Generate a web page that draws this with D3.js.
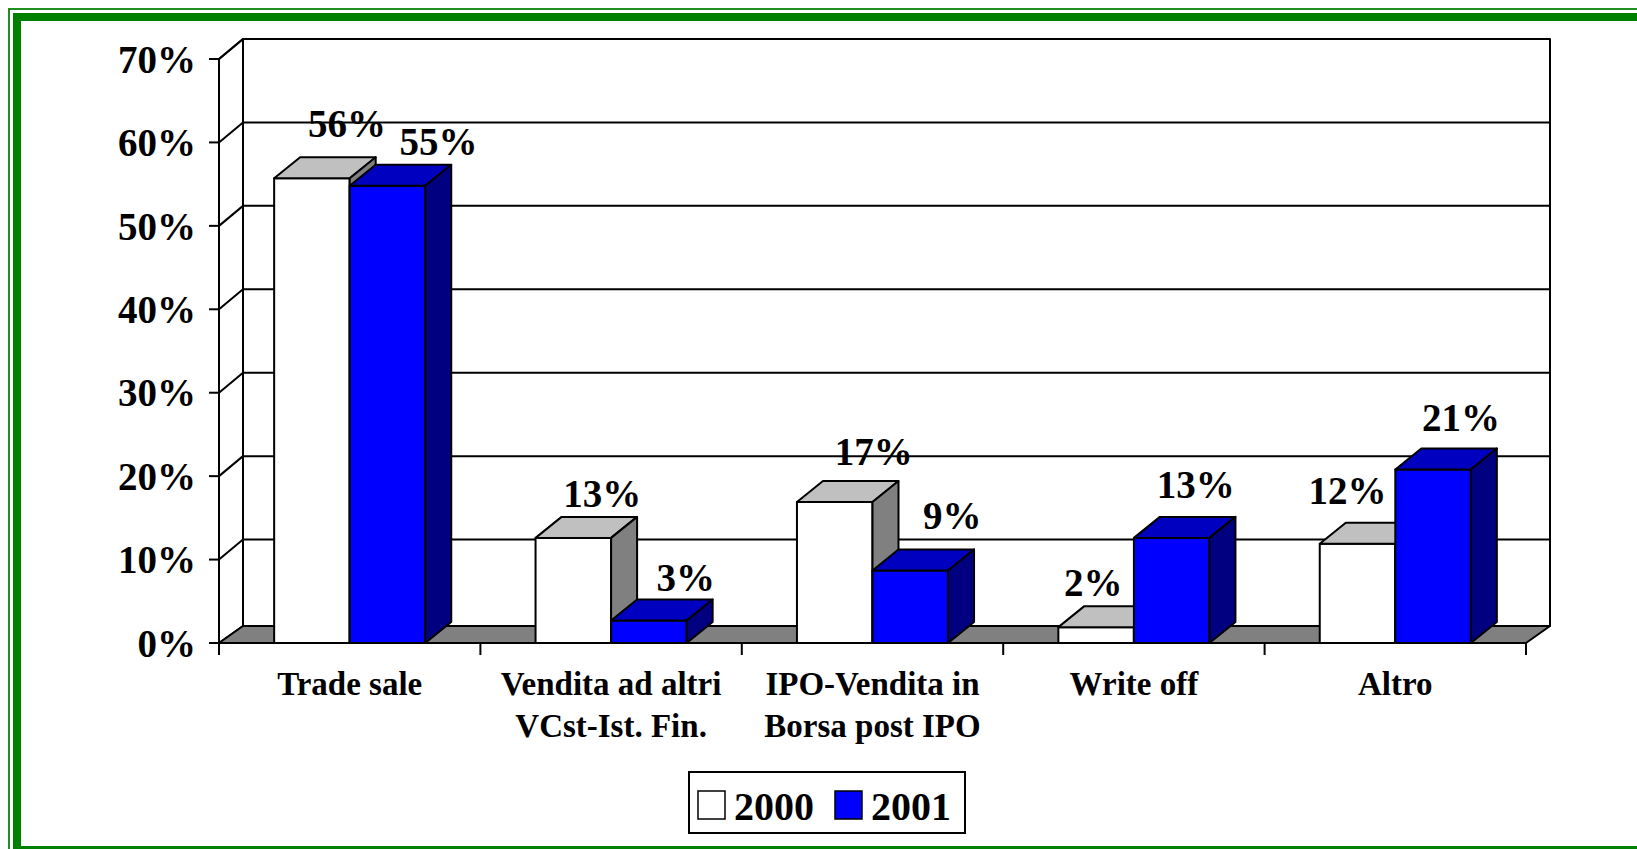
<!DOCTYPE html>
<html>
<head>
<meta charset="utf-8">
<script src="https://cdn.jsdelivr.net/npm/d3@7"></script>
<style>
body { margin: 0; background: #fff; }
text { font-family: "Liberation Serif", "Times New Roman", serif; font-weight: bold; fill: #000; }
</style>
</head>
<body>
<script>
let categories = ["Trade sale", "Vendita ad altri\nVCst-Ist. Fin.", "IPO-Vendita in\nBorsa post IPO", "Write off", "Altro"]
let series = ["2000", "2001"]
let values2000 = [55.7, 12.6, 16.9, 1.9, 11.9]
let values2001 = [54.8, 2.7, 8.7, 12.6, 20.8]
let yTicks = [0, 10, 20, 30, 40, 50, 60, 70]

// hand nudges for the value labels (excel moved them around)
let labelDx = [[22, 16, 26, -16, -23], [38, 24, 29, 11, 15]]
let labelDy = [[-20, -10, -16, -10, -19], [-10, -8, -20, -19, -17]]

let chartWidth = 1637
let chartHeight = 849
let plotLeft = 219, plotRight = 1526, plotBottom = 643, plotTop = 59
let wallDx = 24, wallDy = 20, floorDy = 17
let barDx = 26, barDy = 21

let colors = [
	{front: "#ffffff", top: "#c0c0c0", side: "#808080"},
	{front: "#0000ff", top: "#0000c0", side: "#000080"}
]

let svg = d3.select("body")
	.append("svg")
	.attr("width", chartWidth)
	.attr("height", chartHeight)

let y = d3.scaleLinear().domain([0, 70]).range([plotBottom, plotTop])
let x0 = d3.scaleBand().domain(categories).range([plotLeft, plotRight]).padding(0)
let gap = x0.bandwidth() * 0.211
let x1 = d3.scaleBand().domain(series).range([gap, x0.bandwidth() - gap]).padding(0)

let line = (g, ax, ay, bx, by) => g.append("line")
	.attr("x1", ax).attr("y1", ay).attr("x2", bx).attr("y2", by)
	.attr("stroke", "#000").attr("stroke-width", 2)

let poly = (g, pts, fill) => g.append("polygon")
	.attr("points", pts.map(p => p.join(",")).join(" "))
	.attr("fill", fill)
	.attr("stroke", "#000")
	.attr("stroke-width", 2)
	.attr("stroke-linejoin", "round")

// walls
let walls = svg.append("g")
let backTop = y(70) - wallDy
let backBottom = plotBottom - floorDy
poly(walls, [[plotLeft, plotBottom], [plotLeft, y(70)], [plotLeft + wallDx, backTop], [plotLeft + wallDx, backBottom]], "#fff")
poly(walls, [[plotLeft + wallDx, backTop], [plotRight + wallDx, backTop], [plotRight + wallDx, backBottom], [plotLeft + wallDx, backBottom]], "#fff")

yTicks.filter(v => v > 0).forEach(v => {
	line(walls, plotLeft + wallDx, y(v) - wallDy, plotRight + wallDx, y(v) - wallDy)
	line(walls, plotLeft, y(v), plotLeft + wallDx, y(v) - wallDy)
})

// floor
poly(walls, [[plotLeft, plotBottom], [plotRight, plotBottom], [plotRight + wallDx, backBottom], [plotLeft + wallDx, backBottom]], "#808080")

// axes
let axes = svg.append("g")
line(axes, plotLeft, y(70), plotLeft, plotBottom + 12)
line(axes, plotLeft, plotBottom, plotRight, plotBottom)
yTicks.forEach(v => line(axes, plotLeft - 10, y(v), plotLeft, y(v)))
d3.range(categories.length + 1).forEach(i => {
	let xx = plotLeft + i * x0.step()
	line(axes, xx, plotBottom, xx, plotBottom + 12)
})

axes.selectAll(".ytick")
	.data(yTicks)
	.enter()
	.append("text")
	.attr("class", "ytick")
	.attr("x", plotLeft - 23)
	.attr("y", d => y(d))
	.attr("dy", "0.35em")
	.attr("text-anchor", "end")
	.attr("font-size", 39)
	.text(d => d + "%")

let xlab = axes.selectAll(".xlab")
	.data(categories)
	.enter()
	.append("text")
	.attr("class", "xlab")
	.attr("text-anchor", "middle")
	.attr("font-size", 33)
	.attr("x", d => x0(d) + x0.bandwidth() / 2)
	.attr("y", 695)

xlab.selectAll("tspan")
	.data(d => d.split("\n"))
	.enter()
	.append("tspan")
	.attr("x", function() { return d3.select(this.parentNode).attr("x") })
	.attr("dy", (d, i) => i == 0 ? 0 : 42)
	.text(d => d)

// 3d bars
let bars = svg.append("g")
let allValues = [values2000, values2001]
let bw = x1.bandwidth()

categories.forEach((c, i) => {
	series.forEach((s, k) => {
		let v = allValues[k][i]
		let xl = x0(c) + x1(s)
		let yt = y(v)
		let col = colors[k]
		poly(bars, [[xl, plotBottom], [xl, yt], [xl + bw, yt], [xl + bw, plotBottom]], col.front)
		poly(bars, [[xl, yt], [xl + barDx, yt - barDy], [xl + bw + barDx, yt - barDy], [xl + bw, yt]], col.top)
		poly(bars, [[xl + bw, plotBottom], [xl + bw, yt], [xl + bw + barDx, yt - barDy], [xl + bw + barDx, plotBottom - barDy]], col.side)
	})
})

// value labels
categories.forEach((c, i) => {
	series.forEach((s, k) => {
		let v = allValues[k][i]
		bars.append("text")
			.attr("x", x0(c) + x1(s) + bw / 2 + barDx / 2 + labelDx[k][i])
			.attr("y", y(v) - barDy + labelDy[k][i])
			.attr("text-anchor", "middle")
			.attr("font-size", 39)
			.text(Math.round(v) + "%")
	})
})

// legend
let legend = svg.append("g")
legend.append("rect")
	.attr("x", 689).attr("y", 772)
	.attr("width", 276).attr("height", 61)
	.attr("fill", "#fff").attr("stroke", "#000").attr("stroke-width", 2)

let legendX = [698, 835]
series.forEach((s, k) => {
	legend.append("rect")
		.attr("x", legendX[k]).attr("y", 791)
		.attr("width", 27).attr("height", 28)
		.attr("fill", colors[k].front)
		.attr("stroke", "#000").attr("stroke-width", 1.5)
	legend.append("text")
		.attr("x", legendX[k] + 36).attr("y", 820)
		.attr("font-size", 40)
		.text(s)
})

// green frame
svg.append("rect")
	.attr("x", 9).attr("y", 9)
	.attr("width", 1700).attr("height", 900)
	.attr("fill", "none").attr("stroke", "#1f8f1f").attr("stroke-width", 2)
svg.append("rect")
	.attr("x", 17).attr("y", 17)
	.attr("width", 1700).attr("height", 833)
	.attr("fill", "none").attr("stroke", "#008000").attr("stroke-width", 8)
</script>
</body>
</html>
